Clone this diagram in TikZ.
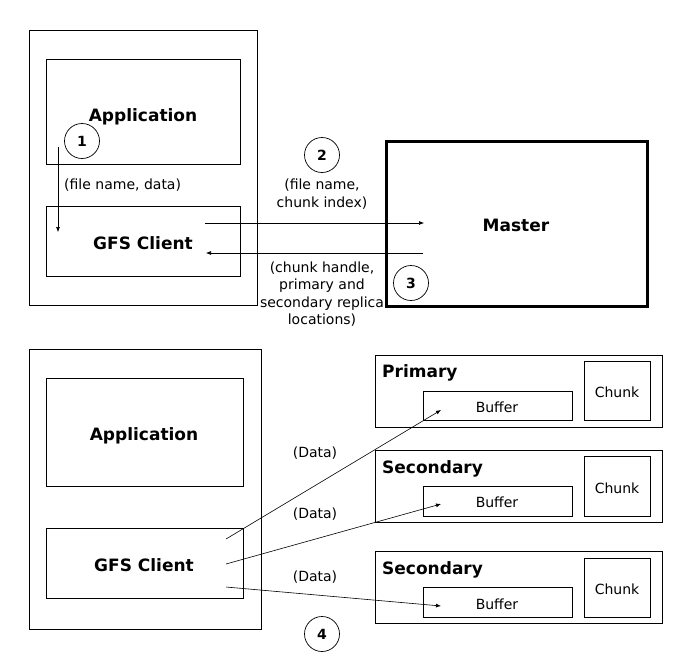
\documentclass[tikz,border=0pt]{standalone}
\usepackage{fontspec}
\setmainfont{DejaVu Sans}
\usetikzlibrary{arrows.meta}
\begin{document}
\begin{tikzpicture}[x=1pt,y=-1pt,
  box/.style={draw, line width=0.8pt, inner sep=0pt},
  thickbox/.style={box, line width=3pt},
  big/.style={inner sep=0pt, anchor=base, font=\fontsize{17}{20}\selectfont\bfseries},
  title/.style={big, anchor=base west},
  txt/.style={inner sep=0pt, anchor=base, font=\fontsize{14}{17}\selectfont},
  lbl/.style={font=\fontsize{14}{17.5}\selectfont, inner sep=0pt, align=center},
  num/.style={draw, circle, line width=0.7pt, minimum size=35pt, inner sep=0pt, font=\fontsize{14}{16}\selectfont\bfseries},
  arr/.style={line width=0.6pt, -{Latex[length=5pt,width=4pt]}}]
\useasboundingbox (0,0) rectangle (693,664);

% ---------- top part ----------
\node[box, minimum width=228pt, minimum height=275pt] (outer1) at (143,167.5) {};
\node[box, minimum width=194pt, minimum height=105pt] (app1) at (143,111.5) {};
\node[big] (app1t) at (143,121) {Application};
\node[box, minimum width=194pt, minimum height=70pt] (client1) at (143,241) {};
\node[big] (client1t) at (143,249) {GFS Client};
\node[thickbox, minimum width=261pt, minimum height=165pt] (master) at (516.5,223.5) {};
\node[big] (mastert) at (516,231) {Master};

\node[num] (n1) at (82,141) {1};
\node[num] (n2) at (322,155) {2};
\node[num] (n3) at (411,283) {3};

\node[lbl, anchor=west] (l1) at (64,185) {(file name, data)};
\node[lbl] (l2) at (322,194) {(file name,\\chunk index)};
\node[lbl] (l3) at (322,294) {(chunk handle,\\primary and\\secondary replica\\locations)};

\coordinate (a1s) at (58,147);
\coordinate (a1e) at (58,232);
\coordinate (a2s) at (205,223);
\coordinate (a2e) at (424,223);
\coordinate (a3s) at (423,253);
\coordinate (a3e) at (206,253);
\draw[arr] (a1s) -- (a1e);
\draw[arr] (a2s) -- (a2e);
\draw[arr] (a3s) -- (a3e);

% ---------- bottom part ----------
\node[box, minimum width=232pt, minimum height=280pt] (outer2) at (145,489) {};
\node[box, minimum width=197pt, minimum height=108pt] (app2) at (144.5,432) {};
\node[big] (app2t) at (144,440) {Application};
\node[box, minimum width=197pt, minimum height=70pt] (client2) at (144.5,563) {};
\node[big] (client2t) at (144,571) {GFS Client};

\node[box, minimum width=287pt, minimum height=72pt] (prim) at (518.5,391) {};
\node[title] (primt) at (382,377) {Primary};
\node[box, minimum width=149pt, minimum height=29pt] (buf1) at (497.5,405.5) {};
\node[txt] (buf1t) at (497,412) {Buffer};
\node[box, minimum width=66pt, minimum height=59pt] (ch1) at (617,390.5) {};
\node[txt] (ch1t) at (617,397) {Chunk};

\node[box, minimum width=287pt, minimum height=72pt] (sec1) at (518.5,486) {};
\node[title] (sec1t) at (382,473) {Secondary};
\node[box, minimum width=149pt, minimum height=30pt] (buf2) at (497.5,501) {};
\node[txt] (buf2t) at (497,507) {Buffer};
\node[box, minimum width=66pt, minimum height=60pt] (ch2) at (617,486) {};
\node[txt] (ch2t) at (617,493) {Chunk};

\node[box, minimum width=287pt, minimum height=72pt] (sec2) at (518.5,587) {};
\node[title] (sec2t) at (382,574) {Secondary};
\node[box, minimum width=149pt, minimum height=30pt] (buf3) at (497.5,602) {};
\node[txt] (buf3t) at (497,609) {Buffer};
\node[box, minimum width=66pt, minimum height=59pt] (ch3) at (617,587.5) {};
\node[txt] (ch3t) at (617,594) {Chunk};

\node[lbl] (d1) at (315,453) {(Data)};
\node[lbl] (d2) at (315,514) {(Data)};
\node[lbl] (d3) at (315,577) {(Data)};
\node[num] (n4) at (322,634) {4};

\coordinate (s1) at (226,539);
\coordinate (s2) at (226,564);
\coordinate (s3) at (226,587);
\coordinate (e1) at (441,410);
\coordinate (e2) at (441,504);
\coordinate (e3) at (441,606);
\draw[arr] (s1) -- (e1);
\draw[arr] (s2) -- (e2);
\draw[arr] (s3) -- (e3);
\end{tikzpicture}
\end{document}
